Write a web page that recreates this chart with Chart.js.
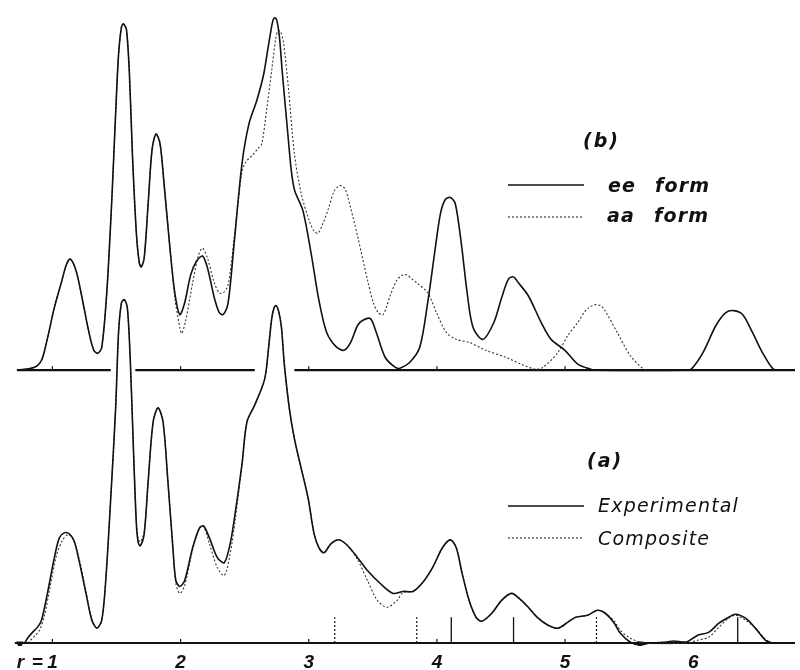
<!DOCTYPE html>
<html>
<head>
<meta charset="utf-8">
<script src="https://cdn.jsdelivr.net/npm/chart.js@4.4.1/dist/chart.umd.min.js"></script>
<style>
  html, body { margin: 0; padding: 0; background: #fff; }
  #wrap { width: 800px; height: 670px; position: relative; }
</style>
</head>
<body>
<div id="wrap"><canvas id="rdf-chart"></canvas></div>
<script>
// x axis: interatomic distance r (A); tick labels
const rTicks = [1, 2, 3, 4, 5, 6];

// (b) upper panel: ee form (solid) and aa form (dotted), height above own baseline
const eeR = [0.723,0.861,0.915,0.954,1.015,1.069,1.108,1.139,1.185,1.231,1.285,1.323,1.354,1.385,1.424,1.462,1.493,1.516,1.539,1.555,1.578,1.601,1.624,1.655,1.678,1.693,1.716,1.747,1.778,1.809,1.840,1.871,1.917,1.955,1.994,2.032,2.079,2.125,2.171,2.210,2.263,2.302,2.333,2.371,2.418,2.479,2.533,2.595,2.648,2.679,2.702,2.722,2.737,2.752,2.772,2.793,2.839,2.864,2.890,2.954,3.018,3.080,3.140,3.211,3.275,3.327,3.381,3.419,3.481,3.527,3.596,3.673,3.712,3.789,3.866,3.928,3.982,4.028,4.066,4.105,4.143,4.190,4.236,4.282,4.359,4.444,4.505,4.559,4.598,4.636,4.713,4.814,4.891,4.999,5.099,5.199,5.253,5.946,5.985,6.077,6.177,6.254,6.316,6.385,6.462,6.539,6.624,6.678];
const eeH = [0,3,10,28,63,88,106,112,100,73,38,20,17,23,78,168,258,318,346,349,343,298,218,138,108,104,113,168,223,238,228,188,123,78,56,68,96,110,115,103,73,58,56,68,128,208,248,272,298,322,340,353,355,352,335,301,235,201,181,161,118,70,38,24,20,28,45,50,52,38,13,3,2,8,23,68,118,158,172,174,168,128,78,43,31,48,73,92,94,88,75,48,31,20,6,1,0,0,1,18,45,58,60,56,38,18,1,0];

const aaR = [0.723,0.861,0.915,0.954,1.015,1.069,1.108,1.139,1.185,1.231,1.285,1.323,1.354,1.385,1.424,1.462,1.493,1.516,1.539,1.555,1.578,1.601,1.624,1.655,1.678,1.693,1.716,1.747,1.778,1.809,1.840,1.871,1.917,1.955,1.994,2.009,2.040,2.094,2.140,2.171,2.210,2.263,2.302,2.333,2.371,2.418,2.479,2.510,2.556,2.602,2.633,2.672,2.710,2.741,2.760,2.780,2.803,2.841,2.888,2.941,3.003,3.042,3.072,3.111,3.149,3.196,3.227,3.250,3.281,3.304,3.381,3.458,3.504,3.542,3.581,3.635,3.689,3.735,3.766,3.804,3.843,3.928,3.997,4.074,4.151,4.251,4.382,4.536,4.659,4.767,4.829,4.945,5.022,5.099,5.160,5.199,5.237,5.276,5.307,5.407,5.507,5.615,5.676];
const aaH = [0,3,10,28,63,88,106,112,100,73,38,20,17,23,78,168,258,318,346,349,343,298,218,138,108,104,113,168,223,238,228,188,123,73,43,37,50,88,116,123,113,88,78,78,86,133,200,210,216,223,228,263,301,333,342,341,330,285,218,178,151,140,138,148,161,180,185,186,183,175,135,91,68,58,56,75,91,96,96,92,88,78,58,38,31,28,20,13,6,1,3,18,35,48,60,64,66,65,61,38,15,1,0];

// (a) lower panel: experimental (solid) and composite (dotted)
const expR = [0.784,0.807,0.846,0.884,0.915,0.961,1.015,1.054,1.092,1.131,1.169,1.208,1.262,1.308,1.347,1.385,1.416,1.455,1.493,1.516,1.539,1.562,1.586,1.609,1.632,1.655,1.670,1.686,1.716,1.747,1.786,1.824,1.863,1.901,1.940,1.963,1.994,2.032,2.094,2.148,2.179,2.225,2.287,2.341,2.387,2.425,2.479,2.518,2.579,2.656,2.687,2.710,2.729,2.745,2.764,2.787,2.810,2.849,2.888,2.941,2.995,3.042,3.080,3.119,3.173,3.234,3.304,3.381,3.458,3.558,3.658,3.735,3.812,3.889,3.966,4.043,4.105,4.151,4.197,4.251,4.305,4.351,4.428,4.505,4.582,4.659,4.713,4.790,4.867,4.945,5.022,5.083,5.176,5.253,5.314,5.384,5.430,5.507,5.584,5.661,5.792,5.846,5.946,6.000,6.039,6.123,6.200,6.277,6.331,6.408,6.485,6.562,6.616];
const expH = [0,5,11,16,23,50,86,106,111,110,103,83,50,23,15,23,63,146,236,313,343,346,336,280,196,120,101,98,110,163,223,237,223,163,96,63,57,63,96,116,118,106,86,81,100,130,180,223,240,266,298,326,338,340,335,318,280,236,206,176,146,110,96,91,100,104,98,86,73,60,50,52,52,61,76,96,104,96,70,43,26,22,30,43,50,43,36,25,18,15,21,26,28,33,30,20,10,1,-2,0,1,2,1,5,8,11,20,26,29,25,15,3,0];

const compR = [0.807,0.861,0.900,0.938,0.977,1.031,1.077,1.116,1.154,1.208,1.262,1.308,1.347,1.385,1.416,1.455,1.493,1.516,1.539,1.562,1.586,1.609,1.632,1.655,1.670,1.686,1.716,1.747,1.786,1.824,1.863,1.901,1.940,1.963,1.994,2.032,2.094,2.148,2.179,2.225,2.287,2.341,2.387,2.425,2.479,2.518,2.579,2.656,2.687,2.710,2.729,2.745,2.764,2.787,2.810,2.849,2.888,2.941,2.995,3.042,3.080,3.119,3.173,3.234,3.304,3.381,3.458,3.535,3.612,3.689,3.735,3.812,3.889,3.966,4.043,4.105,4.151,4.197,4.251,4.305,4.351,4.428,4.505,4.582,4.659,4.713,4.790,4.867,4.945,5.022,5.083,5.176,5.253,5.314,5.384,5.430,5.507,5.615,5.946,6.039,6.123,6.200,6.277,6.331,6.408,6.485,6.562,6.616];
const compH = [0,7,13,28,53,88,103,109,107,85,52,24,15,23,63,146,236,313,343,346,336,280,196,122,104,102,112,163,223,237,223,163,96,60,50,58,94,116,118,100,76,68,90,123,180,223,240,266,298,326,338,340,335,318,280,236,206,176,146,110,96,91,100,104,98,84,63,43,36,43,51,52,61,76,96,104,96,70,43,26,22,30,43,50,43,36,25,18,15,21,26,28,33,30,22,13,5,0,0,3,6,16,25,28,23,15,4,0];

// stick marks under (a): solid and dashed component distances
const stickSolidR = [4.112, 4.598, 6.347];
const stickDashR = [3.203, 3.843, 5.245];
const stickH = 26;

// small filled triangles on the lower baseline
const triangleR = [0.746, 5.584];

// upper baseline is interrupted where the lower curves cross it
const topAxisSegments = [[0.723, 1.455], [1.647, 2.579], [2.888, 6.794]];

const X_MIN = 0.630, X_MAX = 6.794;
const TOP_OFFSET = 275;   // upper panel baseline, in y units above the lower one
const INK = "#111";

const pts = (rs, hs, off = 0) => rs.map((r, i) => ({ x: r, y: hs[i] + off }));

function sticks(rs, h) {
  const out = [];
  rs.forEach(r => { out.push({ x: r, y: 0 }, { x: r, y: h }, { x: r, y: null }); });
  return out;
}

const topAxisData = [];
topAxisSegments.forEach(([a, b]) => {
  topAxisData.push({ x: a, y: TOP_OFFSET }, { x: b, y: TOP_OFFSET }, { x: b, y: null });
});

const curve = {
  pointRadius: 0,
  tension: 0.3,
  fill: false,
};

const labelsPlugin = {
  id: "labels",
  afterDatasetsDraw(chart) {
    const { ctx, scales: { x, y } } = chart;
    ctx.save();
    ctx.strokeStyle = INK;
    ctx.lineWidth = 1.2;

    // little upward ticks on both baselines
    [0, TOP_OFFSET].forEach(base => {
      const py = y.getPixelForValue(base);
      [1, 2, 3, 4, 5].forEach(v => {
        const px = x.getPixelForValue(v);
        ctx.beginPath();
        ctx.moveTo(px, py);
        ctx.lineTo(px, py - 4);
        ctx.stroke();
      });
    });

    // "r =" in front of the first tick label
    const p1 = x.getPixelForValue(1);
    ctx.fillStyle = INK;
    ctx.font = "italic bold 19px 'Liberation Sans'";
    ctx.textAlign = "center";
    ctx.textBaseline = "alphabetic";
    ctx.fillText("r", p1 - 32, 668);
    ctx.fillText("=", p1 - 15, 668);

    // legends
    ctx.textAlign = "left";
    const sample = (yy, dashed) => {
      ctx.beginPath();
      ctx.setLineDash(dashed ? [2, 2] : []);
      ctx.lineWidth = dashed ? 1 : 1.5;
      ctx.moveTo(508, yy);
      ctx.lineTo(584, yy);
      ctx.stroke();
      ctx.setLineDash([]);
    };

    ctx.font = "italic bold 19px 'DejaVu Sans'";
    ctx.letterSpacing = "2px";
    ctx.fillText("(b)", 583, 147);
    ctx.fillText("(a)", 587, 467);
    ctx.letterSpacing = "1.2px";
    sample(185, false);
    sample(217, true);
    ctx.fillText("ee", 608, 192);
    ctx.fillText("form", 655, 192);
    ctx.fillText("aa", 607, 222);
    ctx.fillText("form", 654, 222);

    ctx.font = "italic 19px 'DejaVu Sans'";
    ctx.letterSpacing = "1.2px";
    sample(506, false);
    sample(538, true);
    ctx.fillText("Experimental", 598, 512);
    ctx.fillText("Composite", 598, 545);
    ctx.restore();
  },
};

new Chart(document.getElementById("rdf-chart"), {
  type: "line",
  data: {
    datasets: [
      { label: "ee form", data: pts(eeR, eeH, TOP_OFFSET), borderColor: INK, borderWidth: 1.6, ...curve },
      { label: "aa form", data: pts(aaR, aaH, TOP_OFFSET), borderColor: "#333", borderWidth: 1.1, borderDash: [2, 2], ...curve },
      { label: "Experimental", data: pts(expR, expH), borderColor: INK, borderWidth: 1.6, ...curve },
      { label: "Composite", data: pts(compR, compH), borderColor: "#333", borderWidth: 1.1, borderDash: [2, 2], ...curve },
      { label: "solid sticks", data: sticks(stickSolidR, stickH), borderColor: INK, borderWidth: 1.3, pointRadius: 0, spanGaps: false },
      { label: "dashed sticks", data: sticks(stickDashR, stickH), borderColor: INK, borderWidth: 1.2, borderDash: [2, 2], pointRadius: 0, spanGaps: false },
      { label: "upper baseline", data: topAxisData, borderColor: INK, borderWidth: 2.2, pointRadius: 0, spanGaps: false },
      { label: "lower baseline", data: [{ x: 0.707, y: 0 }, { x: X_MAX, y: 0 }], borderColor: INK, borderWidth: 2.2, pointRadius: 0 },
      {
        label: "markers",
        data: triangleR.map(r => ({ x: r, y: -1 })),
        showLine: false,
        pointStyle: "triangle",
        rotation: 180,
        pointRadius: 4,
        backgroundColor: INK,
        borderColor: INK,
      },
    ],
  },
  options: {
    responsive: true,
    maintainAspectRatio: false,
    animation: false,
    layout: { padding: 0 },
    plugins: { legend: { display: false }, tooltip: { enabled: false } },
    scales: {
      x: {
        type: "linear",
        min: X_MIN,
        max: X_MAX,
        grid: { display: false, drawTicks: false },
        border: { display: false },
        afterBuildTicks: (scale) => { scale.ticks = rTicks.map(v => ({ value: v })); },
        afterFit: (scale) => { scale.height = 24; },
        ticks: {
          padding: 5,
          maxRotation: 0,
          autoSkip: false,
          color: INK,
          font: { family: "Liberation Sans", size: 19, weight: "bold", style: "italic" },
          callback: (v) => String(v),
        },
      },
      y: { display: false, min: -3, max: 643 },
    },
  },
  plugins: [labelsPlugin],
});
</script>
</body>
</html>
